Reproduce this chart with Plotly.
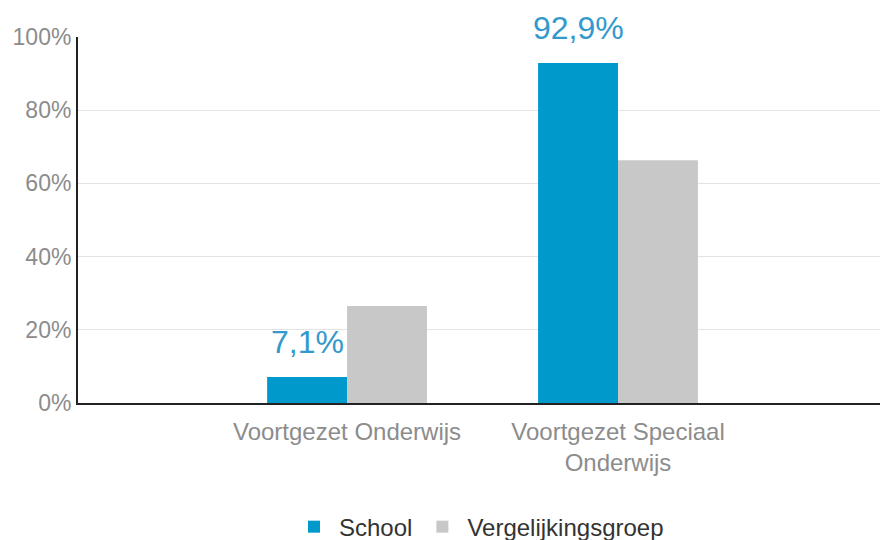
import plotly.graph_objects as go

categories = ["Voortgezet Onderwijs", "Voortgezet Speciaal<br>Onderwijs"]
school = [7.1, 92.9]
vergelijking = [26.5, 66.3]
school_labels = ["7,1%", "92,9%"]
y_ticks = [0, 20, 40, 60, 80, 100]
y_tick_labels = ["0%", "20%", "40%", "60%", "80%", "100%"]

FONT = "Liberation Sans, Arial, sans-serif"

fig = go.Figure()
fig.add_trace(go.Bar(name="School", x=categories, y=school,
                     marker=dict(color="#0099CC", line=dict(width=0)),
                     cliponaxis=False))
fig.add_trace(go.Bar(name="Vergelijkingsgroep", x=categories, y=vergelijking,
                     marker=dict(color="#C8C8C8", line=dict(width=0)),
                     cliponaxis=False))

for c, v, t in zip(categories, school, school_labels):
    fig.add_annotation(x=c, y=v, text=t, showarrow=False, xref="x", yref="y",
                       xshift=-40, yanchor="bottom", yshift=15,
                       font=dict(family=FONT, size=32, color="#3399CC"))

fig.update_layout(
    width=880, height=540,
    margin=dict(l=78, r=0, t=37, b=137, autoexpand=False),
    paper_bgcolor="white", plot_bgcolor="white",
    barmode="group", bargap=0.41, bargroupgap=0,
    font=dict(family=FONT),
    legend=dict(orientation="h", x=0.5, xanchor="center", y=-0.339, yanchor="middle",
                font=dict(family=FONT, size=24, color="#333333"),
                itemwidth=40, traceorder="normal"),
    xaxis=dict(range=[-0.993, 1.967], showgrid=False, showline=True, linecolor="#222222",
               linewidth=2, ticks="outside", ticklen=6, tickcolor="rgba(0,0,0,0)",
               tickfont=dict(family=FONT, size=24, color="#8c8c8c"), fixedrange=True),
    yaxis=dict(range=[0, 100], tickvals=y_ticks, ticktext=y_tick_labels,
               showgrid=True, gridcolor="#e3e3e3", gridwidth=1, zeroline=False,
               showline=True, linecolor="#222222", linewidth=2,
               ticks="", tickfont=dict(family=FONT, size=23, color="#8c8c8c"),
               fixedrange=True),
)

fig.write_html("out.html", config={"displayModeBar": False},
               post_script="document.body.style.margin='0';document.body.style.padding='0';")
